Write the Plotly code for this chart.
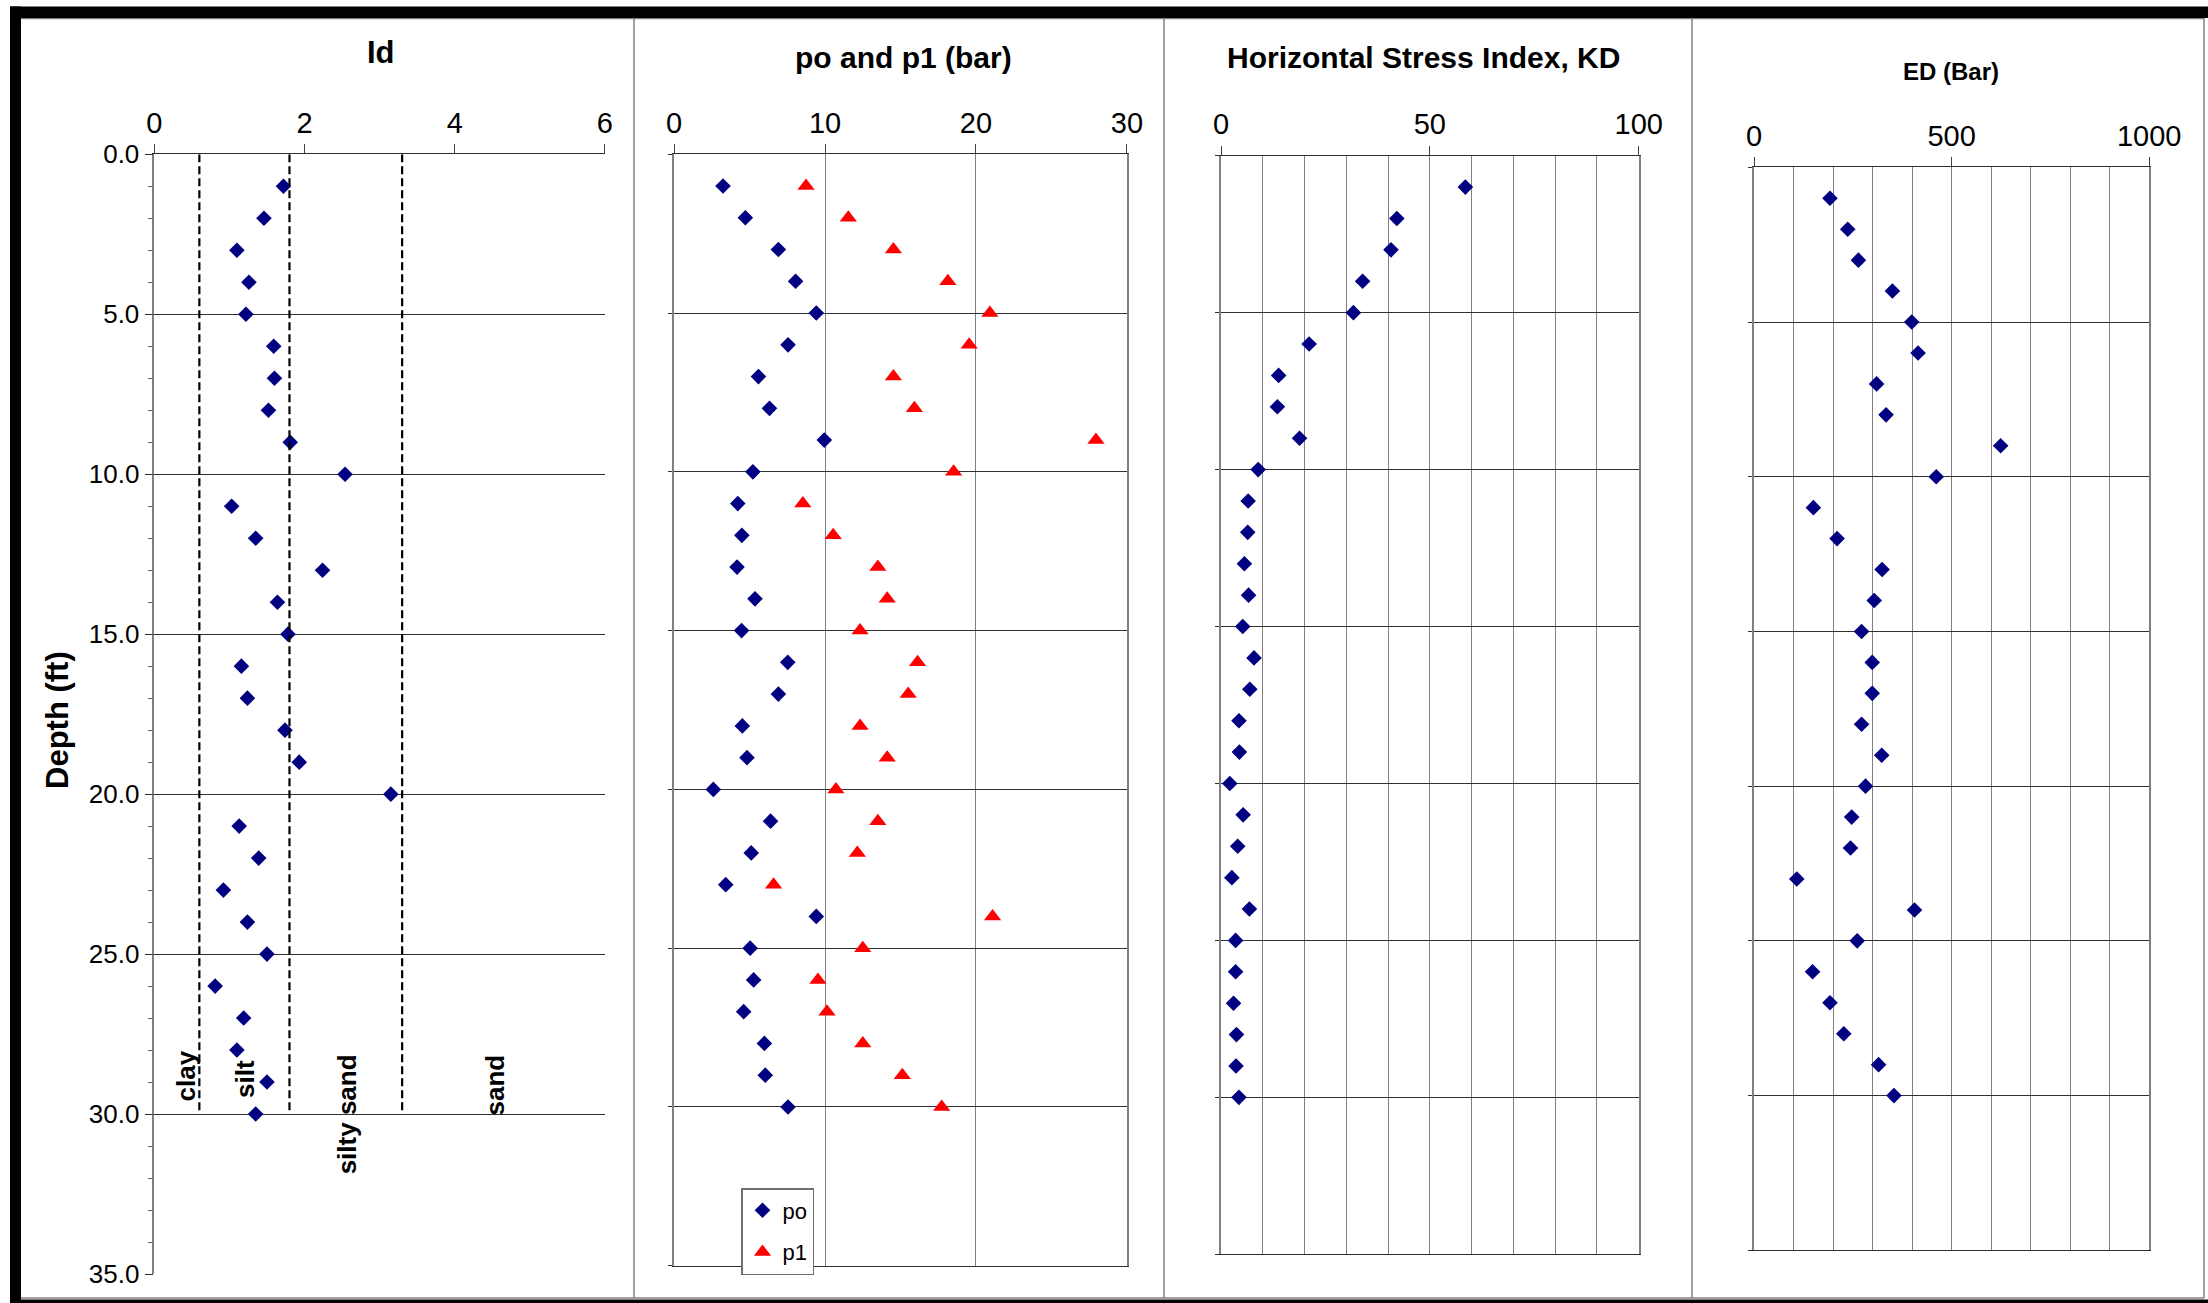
import plotly.graph_objects as go

# ---------------- data ----------------
depth = list(range(1, 31))
id_values = [1.72, 1.46, 1.10, 1.26, 1.22, 1.59, 1.60, 1.52, 1.81, 2.54,
             1.03, 1.35, 2.24, 1.64, 1.78, 1.16, 1.24, 1.74, 1.93, 3.15,
             1.13, 1.39, 0.92, 1.24, 1.50, 0.81, 1.19, 1.10, 1.50, 1.35]
po_values = [3.24, 4.72, 6.91, 8.05, 9.42, 7.55, 5.59, 6.32, 9.95, 5.22,
             4.22, 4.49, 4.17, 5.36, 4.47, 7.53, 6.91, 4.52, 4.83, 2.60,
             6.39, 5.11, 3.42, 9.42, 5.04, 5.27, 4.61, 5.98, 6.04, 7.55]
p1_values = [8.74, 11.54, 14.53, 18.14, 20.92, 19.55, 14.53, 15.92, 27.95, 18.52,
             8.53, 10.54, 13.50, 14.12, 12.32, 16.13, 15.51, 12.32, 14.12, 10.72,
             13.50, 12.14, 6.59, 21.10, 12.50, 9.53, 10.13, 12.50, 15.12, 17.73]
kd_values = [58.5, 42.1, 40.7, 33.9, 31.7, 21.1, 13.8, 13.5, 18.8, 8.9,
             6.5, 6.4, 5.6, 6.6, 5.2, 7.9, 6.9, 4.3, 4.4, 2.1,
             5.3, 4.0, 2.6, 6.8, 3.5, 3.5, 3.0, 3.7, 3.6, 4.3]
ed_values = [192, 237, 264, 350, 399, 415, 310, 334, 624, 461,
             150, 210, 324, 304, 272, 299, 299, 272, 323, 282,
             247, 244, 108, 406, 261, 148, 192, 227, 315, 354]

soil_boundaries = [0.6, 1.8, 3.3]
boundary_depths = [0, 30]
soil_names = ["clay", "silt", "silty sand", "sand"]
soil_label_x = [0.42, 1.21, 2.57, 4.54]
soil_label_depth = [28.8, 28.9, 30.0, 29.1]

depth_ticks = [0, 5, 10, 15, 20, 25, 30, 35]
depth_ticktext = ["0.0", "5.0", "10.0", "15.0", "20.0", "25.0", "30.0", "35.0"]
id_ticks = [0, 2, 4, 6]
p_ticks = [0, 10, 20, 30]
kd_ticks = [0, 50, 100]
ed_ticks = [0, 500, 1000]

panel_titles = ["Id", "po and p1 (bar)", "Horizontal Stress Index, KD", "ED (Bar)"]

# ---------------- layout helpers ----------------
W, H = 2208, 1303
FONT = "Liberation Sans, Arial, sans-serif"
NAVY = "#000080"
HGRID = "#303030"
VGRID = "#808080"


def fx(p):
    return p / W


def fy(p):
    return 1 - p / H


fig = go.Figure()

diamond = dict(symbol="diamond", size=12, color=NAVY, line=dict(width=0))

# Panel 1 : Id
fig.add_trace(go.Scatter(x=id_values, y=depth, mode="markers", marker=diamond,
                         xaxis="x", yaxis="y", showlegend=False, name="Id"))
for b in soil_boundaries:
    fig.add_trace(go.Scatter(x=[b] * len(boundary_depths), y=boundary_depths, mode="lines",
                             line=dict(color="black", width=2.2, dash="8px,4px"),
                             xaxis="x", yaxis="y", showlegend=False, hoverinfo="skip"))

# Panel 2 : po and p1
fig.add_trace(go.Scatter(x=po_values, y=depth, mode="markers", marker=diamond,
                         xaxis="x2", yaxis="y2", name="po", legendgroup="po"))
fig.add_trace(go.Scatter(x=p1_values, y=depth, mode="markers",
                         marker=dict(symbol="triangle-up", size=15, color="#ff0000", line=dict(width=0)),
                         xaxis="x2", yaxis="y2", name="p1", legendgroup="p1"))

# Panel 3 : KD
fig.add_trace(go.Scatter(x=kd_values, y=depth, mode="markers", marker=diamond,
                         xaxis="x3", yaxis="y3", showlegend=False, name="KD"))

# Panel 4 : ED
fig.add_trace(go.Scatter(x=ed_values, y=depth, mode="markers", marker=diamond,
                         xaxis="x4", yaxis="y4", showlegend=False, name="ED"))

tickfont = dict(family=FONT, size=29, color="black")

panels = [
    dict(xd=(154.3, 604.9), yd=(154.3, 1274.0), rng=[0, 6], tv=id_ticks, minor=None),
    dict(xd=(674.1, 1126.9), yd=(154.3, 1265.7), rng=[0, 30], tv=p_ticks, minor=None),
    dict(xd=(1221.0, 1638.7), yd=(155.7, 1254.3), rng=[0, 100], tv=kd_ticks, minor=10),
    dict(xd=(1754.1, 2149.2), yd=(167.3, 1250.3), rng=[0, 1000], tv=ed_ticks, minor=100),
]

layout = dict(
    template="none",
    width=W, height=H, autosize=False,
    margin=dict(l=0, r=0, t=0, b=0, pad=0, autoexpand=False),
    paper_bgcolor="white", plot_bgcolor="white",
    font=dict(family=FONT, color="black"),
    showlegend=True,
    legend=dict(x=fx(741), y=fy(1188), xanchor="left", yanchor="top",
                bgcolor="white", bordercolor="#707070", borderwidth=1.5,
                font=dict(family=FONT, size=22, color="black"),
                itemsizing="trace", tracegroupgap=10),
)

for i, p in enumerate(panels):
    sfx = "" if i == 0 else str(i + 1)
    xa = dict(
        domain=[fx(p["xd"][0]), fx(p["xd"][1])],
        range=p["rng"], side="top", anchor="y" + sfx, automargin=False,
        tickmode="array", tickvals=p["tv"], tickfont=tickfont,
        ticks="outside", ticklen=9, tickcolor="#404040", tickwidth=1.3,
        showline=True, linecolor="#303030", linewidth=1.3,
        zeroline=False, fixedrange=True,
    )
    if i == 0:
        xa["showgrid"] = False
    elif i == 1:
        xa.update(showgrid=True, gridcolor=VGRID, gridwidth=1.3, mirror=True)
    else:
        xa.update(showgrid=True, gridcolor=VGRID, gridwidth=1.3, mirror=True,
                  minor=dict(dtick=p["minor"], tick0=0, showgrid=True, gridcolor=VGRID,
                             gridwidth=1.3, ticks=""))
    ya = dict(
        domain=[fy(p["yd"][1]), fy(p["yd"][0])],
        range=[35, 0], anchor="x" + sfx, automargin=False,
        tickmode="array", tickvals=depth_ticks,
        showgrid=True, gridcolor=HGRID, gridwidth=1.3,
        showline=True, linecolor=VGRID, linewidth=1.5,
        zeroline=False, fixedrange=True,
    )
    if i == 0:
        ya.update(ticktext=depth_ticktext, tickfont=dict(family=FONT, size=26, color="black"),
                  ticks="outside", ticklen=8, tickcolor="#303030", tickwidth=1.3,
                  minor=dict(dtick=1, tick0=0, ticks="outside", ticklen=5,
                             tickcolor="#606060", tickwidth=1.2, showgrid=False))
    else:
        ya.update(showticklabels=False, ticks="outside", ticklen=4,
                  tickcolor="#303030", tickwidth=1.3, mirror=True)
    layout["xaxis" + sfx] = xa
    layout["yaxis" + sfx] = ya

fig.update_layout(**layout)

# ---------------- annotations ----------------
title_pos = [(380.8, 52, 31), (903.8, 57, 30), (1423.4, 57, 30), (1951.3, 71.7, 24)]
for t, (x, y, s) in zip(panel_titles, title_pos):
    fig.add_annotation(text="<b>%s</b>" % t, x=fx(x), y=fy(y), xref="paper", yref="paper",
                       xanchor="center", yanchor="middle", showarrow=False,
                       font=dict(family=FONT, size=s, color="black"))

fig.add_annotation(text="<b>Depth (ft)</b>", x=fx(57), y=fy(720), xref="paper", yref="paper",
                   xanchor="center", yanchor="middle", showarrow=False, textangle=-90,
                   font=dict(family=FONT, size=31, color="black"))

for name, sx, sd in zip(soil_names, soil_label_x, soil_label_depth):
    fig.add_annotation(text="<b>%s</b>" % name, x=sx, y=sd, xref="x", yref="y",
                       xanchor="center", yanchor="middle", showarrow=False, textangle=-90,
                       font=dict(family=FONT, size=26, color="black"))

# ---------------- frames / borders ----------------
shapes = []
for x in [634, 1164, 1692, 2204]:
    shapes.append(dict(type="line", xref="paper", yref="paper", x0=fx(x), x1=fx(x),
                       y0=fy(18), y1=fy(1298), line=dict(color="#808080", width=1.5)))
shapes.append(dict(type="line", xref="paper", yref="paper", x0=fx(21), x1=fx(2204),
                   y0=fy(1298), y1=fy(1298), line=dict(color="#808080", width=1.5)))
shapes.append(dict(type="line", xref="paper", yref="paper", x0=fx(21), x1=fx(2204),
                   y0=fy(18.5), y1=fy(18.5), line=dict(color="#808080", width=1.5)))
shapes.append(dict(type="rect", xref="paper", yref="paper", x0=fx(10), x1=1,
                   y0=fy(18), y1=fy(6.5), fillcolor="black", line=dict(width=0)))
shapes.append(dict(type="rect", xref="paper", yref="paper", x0=fx(10), x1=fx(21),
                   y0=0, y1=fy(6.5), fillcolor="black", line=dict(width=0)))
shapes.append(dict(type="rect", xref="paper", yref="paper", x0=fx(10), x1=1,
                   y0=0, y1=fy(1299.5), fillcolor="black", line=dict(width=0)))
fig.update_layout(shapes=shapes)

post = ("document.documentElement.style.overflow='hidden';"
        "document.body.style.margin='0px';"
        "document.body.style.overflow='hidden';")

fig.write_html("out.html", config={"displayModeBar": False}, post_script=post)
